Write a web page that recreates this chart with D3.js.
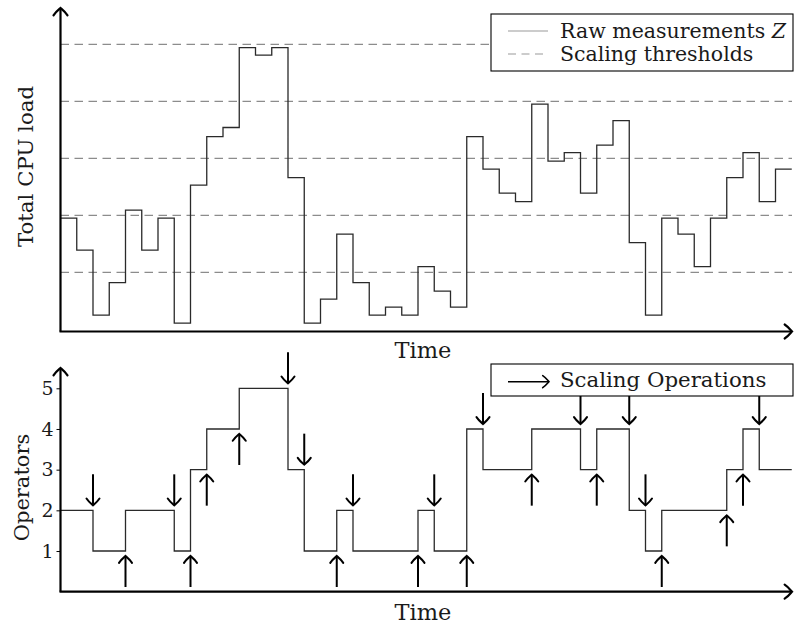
<!DOCTYPE html>
<html>
<head>
<meta charset="utf-8">
<script src="https://cdn.jsdelivr.net/npm/d3@7"></script>
<style>
  html, body { margin: 0; padding: 0; background: #fff; }
  svg { display: block; }
  text { font-family: "DejaVu Serif", serif; fill: #1a1a1a; }
</style>
</head>
<body>
<svg id="chart" width="795" height="626"></svg>
<script>
// Total CPU load per time step, in units of the scaling threshold spacing
const load = [1.95, 1.39, 0.25, 0.82, 2.09, 1.39, 1.95, 0.11, 2.53, 3.38,
              3.54, 4.94, 4.81, 4.94, 2.66, 0.11, 0.53, 1.67, 0.82, 0.25,
              0.39, 0.25, 1.10, 0.67, 0.39, 3.38, 2.81, 2.39, 2.24, 3.95,
              2.95, 3.10, 2.39, 3.23, 3.66, 1.52, 0.25, 1.95, 1.67, 1.10,
              1.95, 2.66, 3.10, 2.24, 2.81];
// Number of operators running during each time step
const operators = [2, 2, 1, 1, 2, 2, 2, 1, 3, 4,
                   4, 5, 5, 5, 3, 1, 1, 2, 1, 1,
                   1, 1, 2, 1, 1, 4, 3, 3, 3, 4,
                   4, 4, 3, 4, 4, 2, 1, 2, 2, 2,
                   2, 3, 4, 3, 3];
const thresholds = [1, 2, 3, 4, 5];
const operatorTicks = [1, 2, 3, 4, 5];
const legendTop = ["Raw measurements ", "Scaling thresholds"];
const legendBottom = ["Scaling Operations"];

const svg = d3.select("#chart");
const nSteps = load.length;

// shared time axis
const x = d3.scaleLinear().domain([0, nSteps]).range([60.5, 791.75]);

// ---------- top panel ----------
const yLoad = d3.scaleLinear().domain([0, 5]).range([329.3, 44.3]);
const topAxisY = 331.5, axisX = 60.5;

const stepLine = d3.line()
  .x(d => x(d[0]))
  .curve(d3.curveStepAfter);

// thresholds
svg.append("g").selectAll("line").data(thresholds).join("line")
  .attr("x1", axisX).attr("x2", 792)
  .attr("y1", d => yLoad(d)).attr("y2", d => yLoad(d))
  .attr("stroke", "#8c8c8c").attr("stroke-width", 1.2)
  .attr("stroke-dasharray", "8.5,5.5");

const loadPts = load.map((v, i) => [i, v]).concat([[nSteps, load[nSteps - 1]]]);
svg.append("path")
  .attr("d", stepLine.y(d => yLoad(d[1]))(loadPts))
  .attr("fill", "none").attr("stroke", "#2a2a2a").attr("stroke-width", 1.3);

// arrowhead in the "to" style, tip at (0,0) pointing along -y
function headPath(s) {
  return `M${-s},${s * 1.05} C${-s * 0.6},${s * 0.45} ${-s * 0.15},${s * 0.15} 0,0 ` +
         `C${s * 0.15},${s * 0.15} ${s * 0.6},${s * 0.45} ${s},${s * 1.05}`;
}
function arrow(g, x1, y1, x2, y2, s, w) {
  g.append("line").attr("x1", x1).attr("y1", y1).attr("x2", x2).attr("y2", y2)
    .attr("stroke", "#000").attr("stroke-width", w);
  const ang = Math.atan2(y2 - y1, x2 - x1) * 180 / Math.PI + 90;
  g.append("path").attr("d", headPath(s))
    .attr("transform", `translate(${x2},${y2}) rotate(${ang})`)
    .attr("fill", "none").attr("stroke", "#000").attr("stroke-width", w)
    .attr("stroke-linecap", "round");
}

const axes = svg.append("g");
arrow(axes, axisX, topAxisY, axisX, 8, 7, 2.2);
arrow(axes, axisX - 1, topAxisY, 792, topAxisY, 7, 2.2);

svg.append("text")
  .attr("transform", `translate(33,166.5) rotate(-90)`)
  .attr("text-anchor", "middle").attr("font-size", 21.3)
  .text("Total CPU load");
svg.append("text").attr("x", 423).attr("y", 358)
  .attr("text-anchor", "middle").attr("font-size", 22.5).text("Time");

// top legend
const lgTop = svg.append("g");
lgTop.append("rect").attr("x", 491).attr("y", 14).attr("width", 302).attr("height", 57)
  .attr("fill", "#fff").attr("stroke", "#000").attr("stroke-width", 1.1);
lgTop.append("line").attr("x1", 508).attr("x2", 548).attr("y1", 31).attr("y2", 31)
  .attr("stroke", "#9a9a9a").attr("stroke-width", 1.2);
lgTop.append("line").attr("x1", 508).attr("x2", 548).attr("y1", 54).attr("y2", 54)
  .attr("stroke", "#9a9a9a").attr("stroke-width", 1.2).attr("stroke-dasharray", "8,5.5");
const t1 = lgTop.append("text").attr("x", 560).attr("y", 38.3).attr("font-size", 20.5);
t1.append("tspan").text(legendTop[0]);
t1.append("tspan").attr("font-style", "italic").text("Z");
lgTop.append("text").attr("x", 560).attr("y", 60.5).attr("font-size", 20.5).text(legendTop[1]);

// ---------- bottom panel ----------
const yOps = d3.scaleLinear().domain([0, 5]).range([591.7, 388.3]);
const botAxisY = 591.7;

const opPts = operators.map((v, i) => [i, v]).concat([[nSteps, operators[nSteps - 1]]]);
svg.append("path")
  .attr("d", stepLine.y(d => yOps(d[1]))(opPts))
  .attr("fill", "none").attr("stroke", "#2a2a2a").attr("stroke-width", 1.3);

// scaling operations: one arrow at every change in operator count,
// pointing in the direction of the change, next to the previous level
const ops = [];
for (let i = 1; i < operators.length; i++) {
  if (operators[i] !== operators[i - 1]) {
    ops.push({ step: i, from: operators[i - 1], up: operators[i] > operators[i - 1] });
  }
}
const opsG = svg.append("g");
const gap = 5, len = 31;
ops.forEach(o => {
  const xs = x(o.step), yl = yOps(o.from);
  if (o.up) arrow(opsG, xs, yl + gap + len, xs, yl + gap, 6.5, 2);
  else arrow(opsG, xs, yl - gap - len, xs, yl - gap, 6.5, 2);
});

const botAxes = svg.append("g");
arrow(botAxes, axisX, botAxisY, axisX, 368, 7, 2.2);
arrow(botAxes, axisX - 1, botAxisY, 792, botAxisY, 7, 2.2);

const yAxis = d3.axisLeft(yOps).tickValues(operatorTicks).tickSize(4).tickPadding(3)
  .tickFormat(d3.format("d"));
const yg = svg.append("g").attr("transform", `translate(${axisX},0)`).call(yAxis);
yg.select(".domain").remove();
yg.selectAll(".tick line").attr("stroke", "#000").attr("stroke-width", 1);
yg.selectAll(".tick text").attr("font-family", "DejaVu Serif, serif")
  .attr("font-size", 19).attr("fill", "#1a1a1a");

svg.append("text")
  .attr("transform", `translate(29,487.5) rotate(-90)`)
  .attr("text-anchor", "middle").attr("font-size", 21).text("Operators");
svg.append("text").attr("x", 423).attr("y", 620)
  .attr("text-anchor", "middle").attr("font-size", 22.5).text("Time");

// bottom legend drawn last so it sits over the arrows beneath it
const lgBot = svg.append("g");
lgBot.append("rect").attr("x", 491).attr("y", 364).attr("width", 302).attr("height", 32)
  .attr("fill", "#fff").attr("stroke", "#000").attr("stroke-width", 1.1);
arrow(lgBot, 508, 381.7, 549, 381.7, 6, 1.6);
lgBot.append("text").attr("x", 560).attr("y", 387).attr("font-size", 21.3).text(legendBottom[0]);
</script>
</body>
</html>
